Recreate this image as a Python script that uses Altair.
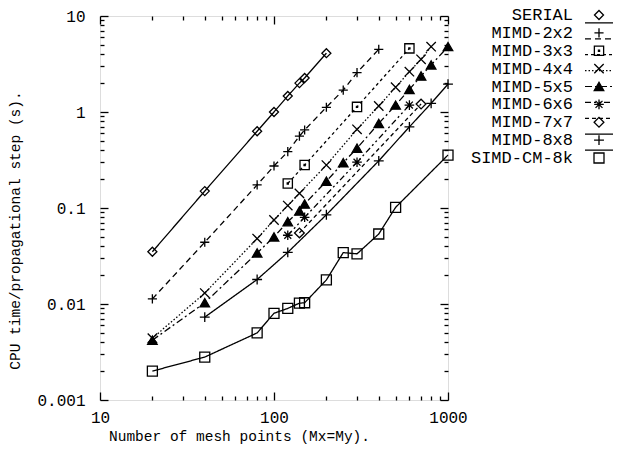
import altair as alt
import pandas as pd

names = ["SERIAL", "MIMD-2x2", "MIMD-3x3", "MIMD-4x4", "MIMD-5x5",
         "MIMD-6x6", "MIMD-7x7", "MIMD-8x8", "SIMD-CM-8k"]

serial_x = [20, 40, 80, 100, 120, 140, 150, 200]
serial_y = [0.035, 0.150, 0.63, 1.0, 1.47, 2.0, 2.26, 4.1]
mimd2_x = [20, 40, 80, 100, 120, 140, 150, 200, 250, 300, 400]
mimd2_y = [0.0113, 0.044, 0.174, 0.274, 0.386, 0.56, 0.65, 1.12, 1.69, 2.57, 4.5]
mimd3_x = [120, 150, 300, 600]
mimd3_y = [0.18, 0.28, 1.13, 4.6]
mimd4_x = [20, 40, 80, 100, 120, 140, 200, 300, 400, 500, 600, 700, 800]
mimd4_y = [0.0044, 0.013, 0.048, 0.075, 0.106, 0.142, 0.28, 0.66, 1.155, 1.81, 2.63, 3.54, 4.79]
mimd5_x = [20, 40, 80, 100, 120, 140, 150, 200, 250, 300, 400, 500, 600, 700, 800, 1000]
mimd5_y = [0.0042, 0.0103, 0.034, 0.050, 0.072, 0.093, 0.11, 0.19, 0.296, 0.42, 0.76, 1.18, 1.72, 2.37, 3.09, 4.8]
mimd6_x = [120, 150, 300, 600]
mimd6_y = [0.052, 0.080, 0.30, 1.18]
mimd7_x = [140, 700]
mimd7_y = [0.055, 1.21]
mimd8_x = [40, 80, 120, 200, 400, 600, 800, 1000]
mimd8_y = [0.0073, 0.018, 0.0345, 0.085, 0.31, 0.70, 1.23, 1.95]
simd_x = [20, 40, 80, 100, 120, 140, 150, 200, 250, 300, 400, 500, 1000]
simd_y = [0.002, 0.0028, 0.005, 0.008, 0.009, 0.0102, 0.0103, 0.0178, 0.0343, 0.0333, 0.0536, 0.1016, 0.356]

x_major = [10, 100, 1000]
y_major = [0.001, 0.01, 0.1, 1, 10]
x_minor = [20, 30, 40, 50, 60, 70, 80, 90, 200, 300, 400, 500, 600, 700, 800, 900]
y_minor = [m * d for d in [0.001, 0.01, 0.1, 1] for m in range(2, 10)]

series_xy = [(serial_x, serial_y), (mimd2_x, mimd2_y), (mimd3_x, mimd3_y),
             (mimd4_x, mimd4_y), (mimd5_x, mimd5_y), (mimd6_x, mimd6_y),
             (mimd7_x, mimd7_y), (mimd8_x, mimd8_y), (simd_x, simd_y)]
rows = []
for name, (xs_, ys_) in zip(names, series_xy):
    for xv, yv in zip(xs_, ys_):
        rows.append({"series": name, "x": xv, "y": yv})
df = pd.DataFrame(rows)
legend_df = pd.DataFrame({"series": names})
axis_df = pd.DataFrame({"x": [10, 1000], "y": [0.001, 10]})

PLUS = "M-1,0L1,0M0,-1L0,1"
SQDOT = "M-1,-1L1,-1L1,1L-1,1Z M-0.12,-0.12L0.12,-0.12L0.12,0.12L-0.12,0.12Z"
XMARK = "M-1,-1L1,1M-1,1L1,-1"
STAR = "M-1,0L1,0M0,-1L0,1M-0.72,-0.72L0.72,0.72M-0.72,0.72L0.72,-0.72"
shapes = ["diamond", PLUS, SQDOT, XMARK, "triangle-up", STAR, "diamond", PLUS, "square"]
sizes = [81, 100, 100, 110, 70, 100, 42, 100, 110]
fills = ["transparent", "transparent", "transparent", "transparent", "black",
         "transparent", "transparent", "transparent", "transparent"]
dashes = [[1, 0], [6, 4], [3, 3], [1.5, 2], [7, 3, 2, 3], [6, 3, 2, 3, 2, 3],
          [4, 3], [1, 0], [1, 0]]

FONT = "Liberation Mono"
W, H = 348, 384

dash_enc = alt.StrokeDash("series:N", scale=alt.Scale(domain=names, range=dashes), legend=None)
shape_enc = alt.Shape("series:N", scale=alt.Scale(domain=names, range=shapes), legend=None)
size_enc = alt.Size("series:N", scale=alt.Scale(domain=names, range=sizes), legend=None)
fill_enc = alt.Fill("series:N", scale=alt.Scale(domain=names, range=fills), legend=None)


def xs():
    return alt.Scale(type="log", domain=[10, 1000], nice=False)


def ys():
    return alt.Scale(type="log", domain=[0.001, 10], nice=False)


lines = alt.Chart(df).mark_line(color="black", strokeWidth=1.3).encode(
    x=alt.X("x:Q", scale=xs(), axis=alt.Axis(
        orient="bottom", values=x_major, format="~g", ticks=False, tickSize=0,
        domain=False, grid=False, labelPadding=9, labelFontSize=16,
        labelFont=FONT, labelColor="black", labelFlush=False,
        title="Number of mesh points (Mx=My).", titleFont=FONT, titleFontSize=14.5,
        titleFontWeight="normal", titleColor="black", titleX=139, titleY=40,
        titleBaseline="alphabetic")),
    y=alt.Y("y:Q", scale=ys(), axis=alt.Axis(
        orient="left", values=y_major, format="~g", ticks=False, tickSize=0,
        domain=False, grid=False, labelPadding=15, labelFontSize=16,
        labelFont=FONT, labelColor="black", labelFlush=False,
        title="CPU time/propagational step (s).", titleFont=FONT, titleFontSize=14.5,
        titleFontWeight="normal", titleColor="black", titleAngle=270,
        titleX=-81, titleY=214, titleBaseline="alphabetic")),
    strokeDash=dash_enc,
    detail="series:N",
    order="x:Q",
)

points = alt.Chart(df).mark_point(filled=False, stroke="black", strokeWidth=1.3, opacity=1).encode(
    x=alt.X("x:Q", scale=xs(), axis=None),
    y=alt.Y("y:Q", scale=ys(), axis=None),
    shape=shape_enc, size=size_enc, fill=fill_enc,
)


def tick_layer(xorient, yorient, xvals, yvals, length):
    return alt.Chart(axis_df).mark_point(opacity=0).encode(
        x=alt.X("x:Q", scale=xs(), axis=alt.Axis(
            orient=xorient, values=xvals, labels=False, domain=False, grid=False,
            ticks=True, tickSize=length, offset=-length, tickColor="black",
            tickWidth=1.3, title=None)),
        y=alt.Y("y:Q", scale=ys(), axis=alt.Axis(
            orient=yorient, values=yvals, labels=False, domain=False, grid=False,
            ticks=True, tickSize=length, offset=-length, tickColor="black",
            tickWidth=1.3, title=None)),
    )


ticks_bl_major = tick_layer("bottom", "left", x_major, y_major, 8)
ticks_bl_minor = tick_layer("bottom", "left", x_minor, y_minor, 4)
ticks_tr_major = tick_layer("top", "right", x_major, y_major, 8)
ticks_tr_minor = tick_layer("top", "right", x_minor, y_minor, 4)

leg_y = alt.Y("series:N", scale=alt.Scale(domain=names, range=[-1, 142], padding=0), axis=None)

leg_rule = alt.Chart(legend_df).mark_rule(color="black", strokeWidth=1.2).encode(
    x=alt.value(485), x2=alt.value(513), y=leg_y, strokeDash=dash_enc)
leg_pts = alt.Chart(legend_df).mark_point(filled=False, stroke="black", strokeWidth=1.3, opacity=1).encode(
    x=alt.value(499), y=leg_y, shape=shape_enc, size=size_enc, fill=fill_enc)
leg_txt = alt.Chart(legend_df).mark_text(
    align="right", baseline="middle", font=FONT, fontSize=17, color="black").encode(
    x=alt.value(473), y=leg_y, text="series:N")

chart = alt.layer(
    lines, points, ticks_bl_major, ticks_bl_minor, ticks_tr_major, ticks_tr_minor,
    leg_rule, leg_pts, leg_txt,
).resolve_scale(x="independent", y="independent").properties(
    width=W, height=H,
    autosize=alt.AutoSizeParams(type="none"),
    padding={"left": 92, "top": 8, "right": 170, "bottom": 48},
).configure_view(stroke="black", strokeWidth=2).configure(background="white")

chart.save("out.html", embed_options={"renderer": "svg", "actions": False})
